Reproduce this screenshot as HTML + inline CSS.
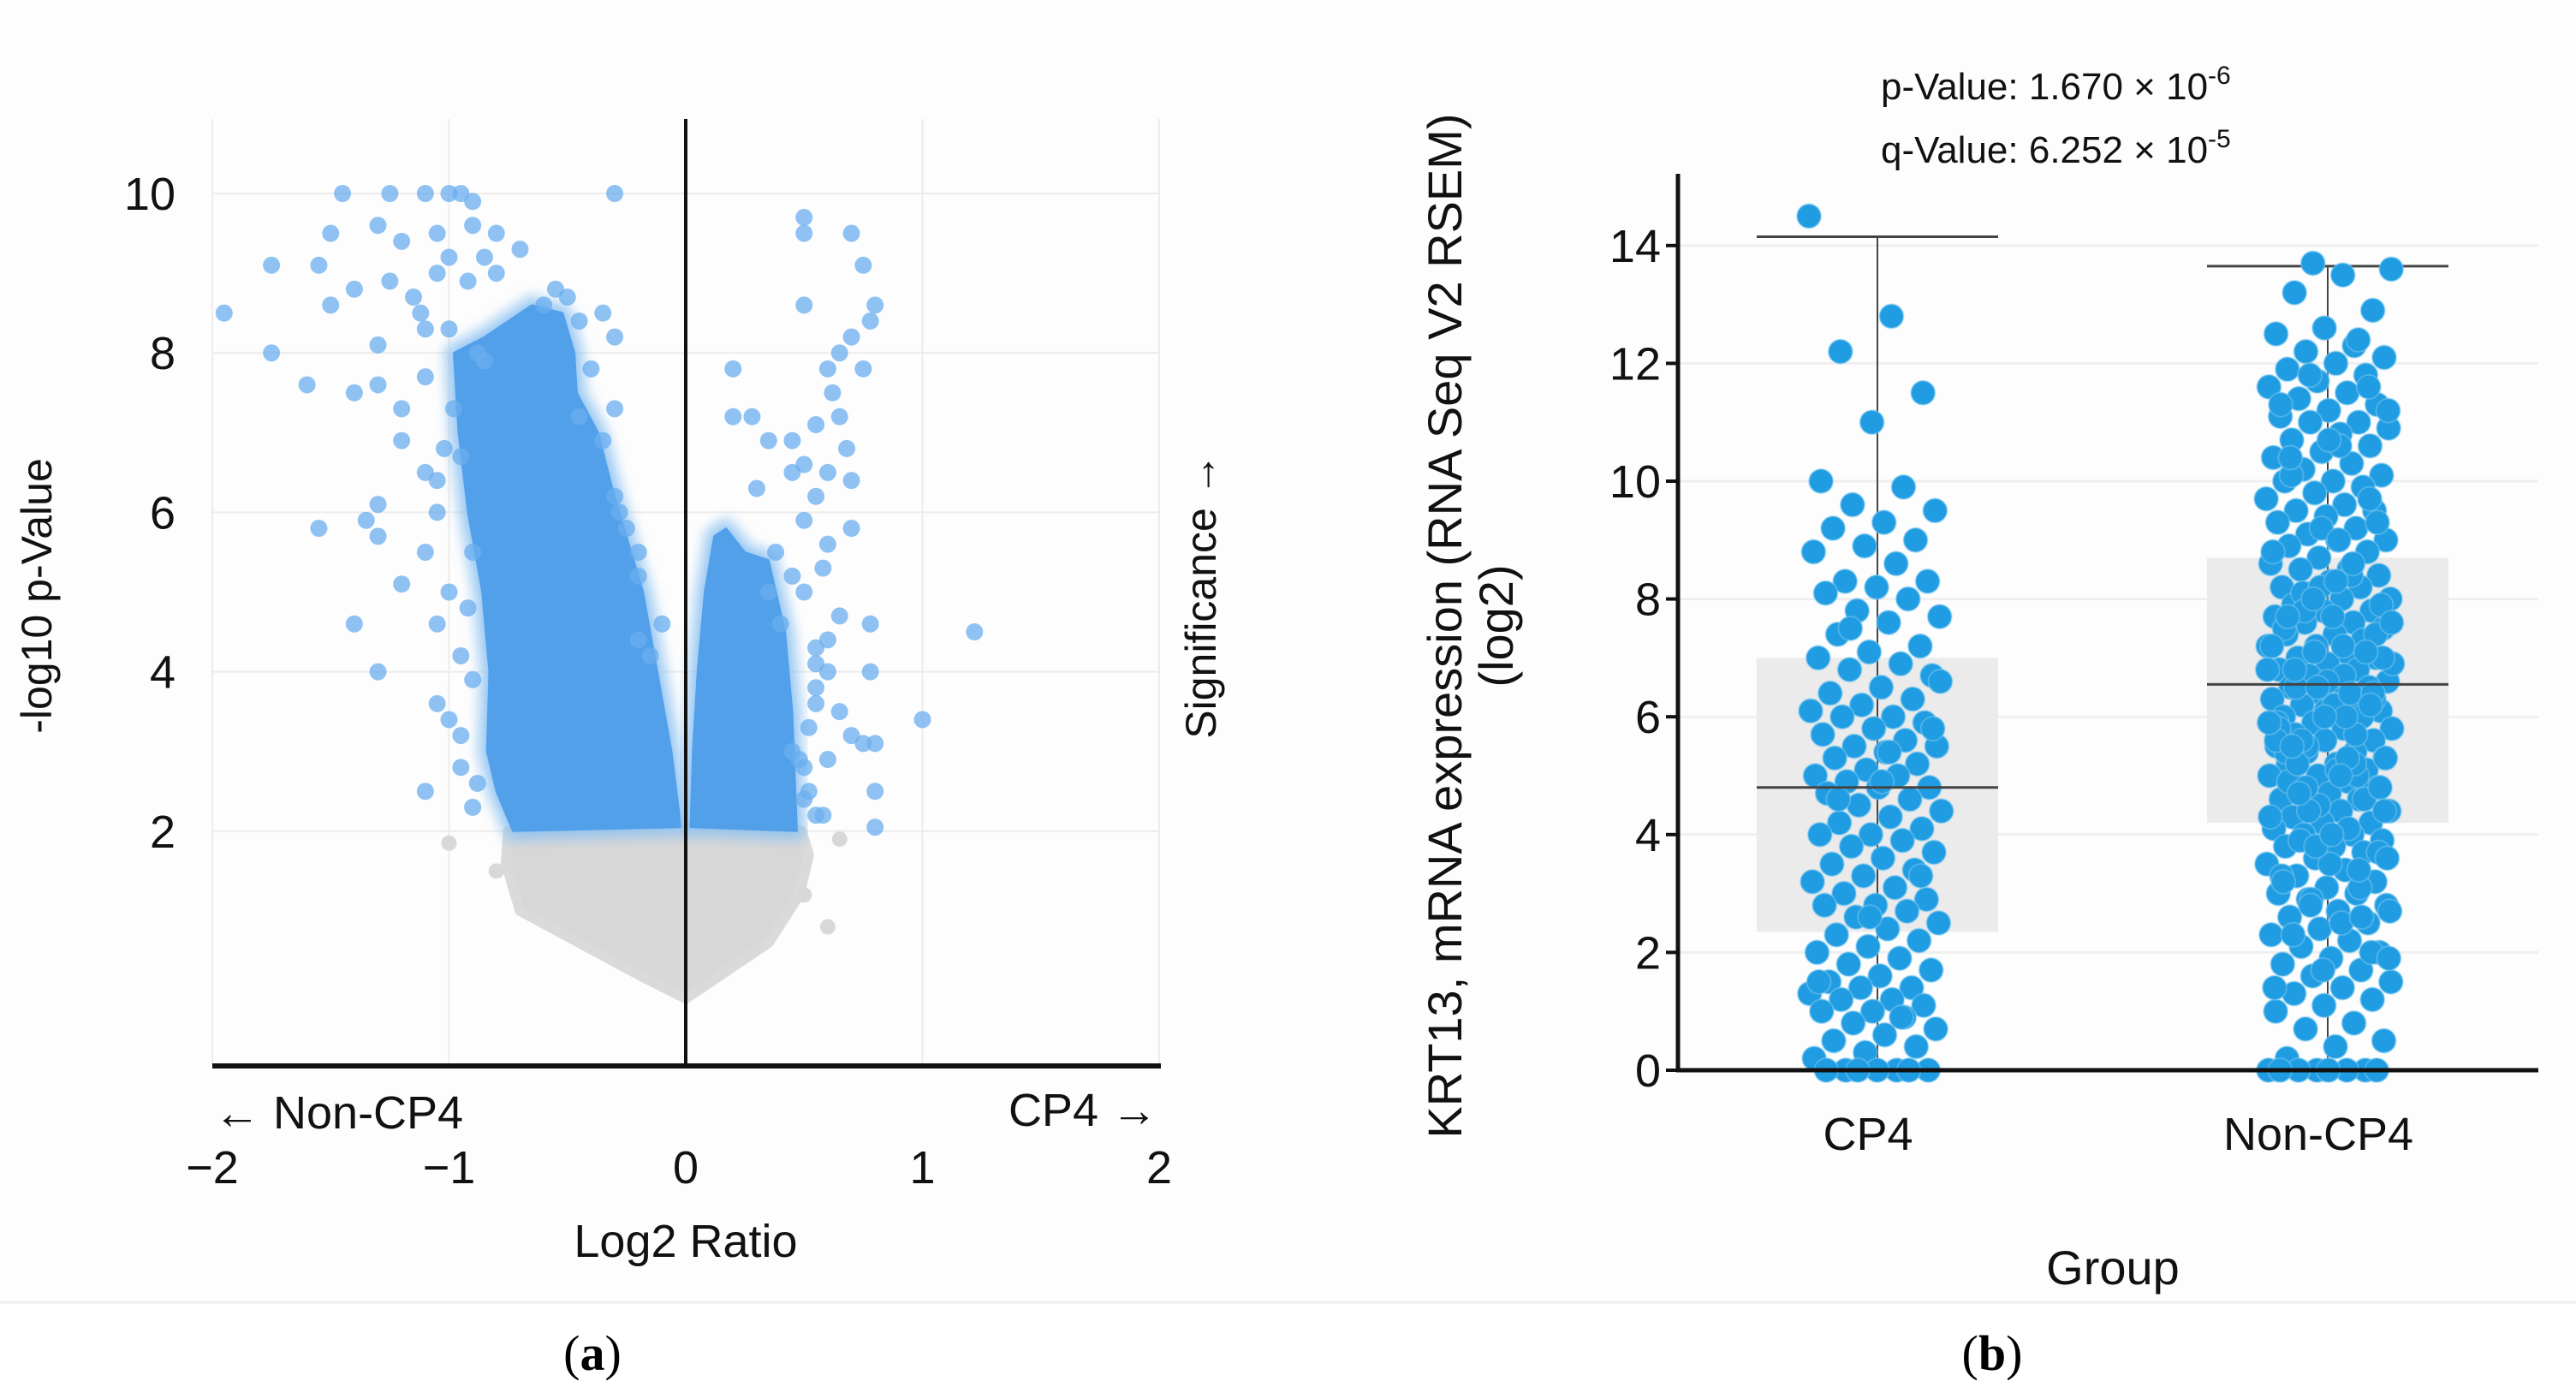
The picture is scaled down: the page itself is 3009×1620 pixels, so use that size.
<!DOCTYPE html>
<html><head><meta charset="utf-8"><style>
html,body{margin:0;padding:0;background:#fff;}
svg{display:block;font-family:"Liberation Sans",sans-serif;}
</style></head><body>
<svg id="fig" width="3009" height="1620" viewBox="0 0 3009 1620" xmlns="http://www.w3.org/2000/svg">
<defs><filter id="blur" x="-10%" y="-10%" width="120%" height="120%"><feGaussianBlur stdDeviation="6"/></filter></defs>
<rect x="0" y="0" width="3009" height="1520" fill="#fdfdfd"/>
<line x1="0" y1="1521" x2="3009" y2="1521" stroke="#eeeeee" stroke-width="3"/>
<g id="volcano"></g>
<g id="boxplot"></g>
<text x="692" y="1600" font-family="Liberation Serif,serif" font-size="58" text-anchor="middle">(<tspan font-weight="bold">a</tspan>)</text>
<text x="2327" y="1600" font-family="Liberation Serif,serif" font-size="58" text-anchor="middle">(<tspan font-weight="bold">b</tspan>)</text>
</svg>
<script>
const NS="http://www.w3.org/2000/svg";
function mk(tag,attrs,parent,txt){const e=document.createElementNS(NS,tag);for(const k in attrs)e.setAttribute(k,attrs[k]);if(txt!==undefined)e.textContent=txt;parent.appendChild(e);return e;}

// ---------- Volcano data ----------
const volXTicks=[-2,-1,0,1,2];
const volXTickLabels=["\u22122","\u22121","0","1","2"];
const volYTicks=[2,4,6,8,10];
const volYTickLabels=["2","4","6","8","10"];
const leftDenseX=[-0.73,-0.8,-0.84,-0.83,-0.86,-0.92,-0.96,-0.98,-0.85,-0.65,-0.52,-0.47,-0.46,-0.37,-0.31,-0.23,-0.18,-0.12,-0.06,-0.02];
const leftDenseY=[2,2.5,3,4,5,6,7,8,8.2,8.6,8.5,8.0,7.5,7.0,6.3,5.5,5,4,3,2.05];
const rightDenseX=[0.02,0.03,0.05,0.08,0.12,0.17,0.25,0.35,0.42,0.45,0.47];
const rightDenseY=[2.05,3,4,5,5.7,5.8,5.5,5.4,4.5,3.5,2.0];
const grayX=[-0.75,-0.02,0.02,0.49,0.52,0.48,0.35,0.15,0,-0.2,-0.45,-0.7,-0.76];
const grayY=[2,2.05,2.05,2,1.7,1.2,0.6,0.2,-0.1,0.2,0.6,1.0,1.6];
const sigX=[-1.45,-1.25,-1.1,-1.0,-0.95,-0.9,-0.3,-1.5,-1.3,-1.2,-1.05,-0.9,-0.8,-1.75,-1.55,-1.95,-1.5,-1.4,-1.25,-1.15,-1.05,-0.85,-0.7,-1.75,-1.3,-1.1,-0.3,-1.6,-1.4,-1.3,-1.2,-1.1,-0.6,-0.5,-0.35,-0.3,-0.45,-1.2,-1.1,-1.3,-1.05,-1.55,-1.35,-1.3,-0.3,-0.25,-0.2,-1.2,-1.1,-1.0,-1.4,-1.3,-1.05,-1.05,-0.95,-0.1,-1.1,-0.9,-0.95,-0.2,-0.15,-1.0,-0.92,-1.12,-0.88,-0.8,-1.02,
 0.5,0.5,0.7,0.75,0.5,0.8,0.78,0.7,0.65,0.6,0.75,0.2,0.2,0.28,0.35,0.45,0.55,0.65,0.5,0.45,0.6,0.3,0.55,0.7,0.5,0.6,0.38,0.45,0.7,0.78,1.22,0.65,0.55,0.6,0.78,0.55,0.65,1.0,0.7,0.8,0.75,0.6,0.52,0.8,0.55,0.8,0.5,0.45,0.4,0.35,0.62,0.68,0.58,
 -1.0,-0.95,-0.9,-1.05,-0.98,-0.88,-0.92,-1.0,-0.85,-0.9,-0.95,-0.55,-0.45,-0.4,-0.35,-0.28,-0.2,0.5,0.52,0.55,0.5,0.48,0.55,0.6,0.58];
const sigY=[10,10,10,10,10,9.9,10,9.5,9.6,9.4,9.5,9.6,9.5,9.1,9.1,8.5,8.6,8.8,8.9,8.7,9.0,9.2,9.3,8.0,8.1,8.3,8.2,7.6,7.5,7.6,7.3,7.7,8.6,8.7,8.5,7.3,7.2,6.9,6.5,6.1,6.0,5.8,5.9,5.7,6.2,5.8,5.5,5.1,5.5,5.0,4.6,4.0,4.6,3.6,3.2,4.6,2.5,2.3,2.8,4.4,4.2,9.2,8.9,8.5,8.0,9.0,6.8,
 9.7,9.5,9.5,9.1,8.6,8.6,8.4,8.2,8.0,7.8,7.8,7.8,7.2,7.2,6.9,6.9,7.1,7.2,6.6,6.5,6.5,6.3,6.2,6.4,5.9,5.6,5.5,5.2,5.8,4.6,4.5,4.7,4.3,4.0,4.0,3.6,3.5,3.4,3.2,3.1,3.1,2.9,2.5,2.5,2.2,2.05,2.8,3.0,4.6,5.0,7.5,6.8,5.3,
 3.4,4.2,5.5,6.4,7.3,2.6,4.8,8.3,7.9,3.9,6.7,8.8,8.4,7.8,6.9,6.0,5.2,2.4,3.3,4.1,5.0,2.9,3.8,4.4,2.2];
const grayPtX=[-1.0,0.65,0.6,-0.8,0.5];
const grayPtY=[1.85,1.9,0.8,1.5,1.2];

// ---------- Box plot data ----------
const groups=["CP4","Non-CP4"];
const boxQ1=[2.35,4.2];
const boxMedian=[4.8,6.55];
const boxQ3=[7.0,8.7];
const whiskerLow=[0,0];
const whiskerHigh=[14.15,13.65];
const boxYTicks=[0,2,4,6,8,10,12,14];
const boxYTickLabels=["0","2","4","6","8","10","12","14"];
const cp4Values=[14.5,12.8,12.2,11.5,11.0,10.0,9.9,9.6,9.5,9.3,9.2,9.0,8.9,8.8,8.6,8.3,8.3,8.2,8.1,8.0,7.8,7.7,7.6,7.4,7.2,7.1,7.0,6.9,6.8,6.7,6.5,6.4,6.3,6.2,6.1,6.0,6.0,5.9,5.8,5.7,5.6,5.5,5.5,5.4,5.3,5.2,5.1,5.0,5.0,4.9,4.8,4.8,4.7,4.6,4.5,4.4,4.3,4.2,4.1,4.0,4.0,3.9,3.8,3.7,3.6,3.5,3.4,3.3,3.2,3.1,3.0,2.9,2.8,2.8,2.7,2.6,2.5,2.4,2.3,2.2,2.1,2.0,1.9,1.8,1.7,1.6,1.5,1.4,1.4,1.3,1.2,1.2,1.1,1.0,1.0,0.9,0.8,0.7,0.6,0.5,0.4,0.3,0.2,0,0,0,0,0,0,0,6.6,5.4,4.6,3.3,2.6,1.5,0.9,7.5,5.8,4.9];
const nonValues=[13.7,13.6,13.5,13.2,12.9,12.6,12.5,12.3,12.2,12.1,12.0,11.9,11.8,11.7,11.6,11.5,11.4,11.3,11.2,11.1,11.0,11.0,10.9,10.8,10.7,10.6,10.5,10.4,10.3,10.2,10.1,10.0,10.0,9.9,9.8,9.7,9.6,9.5,9.5,9.4,9.3,9.2,9.1,9.0,9.0,8.9,8.8,8.7,8.6,8.5,8.5,8.4,8.3,8.2,8.2,8.1,8.0,8.0,7.9,7.8,7.8,7.7,7.6,7.6,7.5,7.4,7.4,7.3,7.2,7.2,7.1,7.0,7.0,6.9,6.8,6.8,6.7,6.6,6.6,6.5,6.5,6.4,6.3,6.3,6.2,6.1,6.1,6.0,6.0,5.9,5.8,5.8,5.7,5.6,5.6,5.5,5.4,5.4,5.3,5.2,5.2,5.1,5.0,5.0,4.9,4.8,4.8,4.7,4.6,4.6,4.5,4.4,4.4,4.3,4.2,4.2,4.1,4.0,4.0,3.9,3.8,3.8,3.7,3.6,3.5,3.4,3.3,3.2,3.1,3.0,3.0,2.9,2.8,2.7,2.6,2.5,2.4,2.3,2.2,2.1,2.0,1.9,1.8,1.7,1.6,1.5,1.4,1.3,1.2,1.1,1.0,0.8,0.7,0.5,0.4,0.2,0,0,0,0,0,0,0,0,
 12.4,11.8,11.2,10.6,10.1,9.7,9.2,8.8,8.4,8.1,7.9,7.7,7.5,7.3,7.1,6.9,6.7,6.5,6.3,6.1,5.9,5.7,5.5,5.3,5.1,4.9,4.7,4.5,4.3,4.1,3.9,3.7,3.5,3.3,3.1,2.9,2.7,2.5,2.3,2.0,1.7,1.4,8.6,7.8,7.0,6.2,5.4,4.6,3.8,6.8,6.0,5.2,7.4,6.6,5.8,5.0,4.4,3.6,9.0,10.4,11.6,8.2,7.2,6.4,5.6,4.8,4.0,3.2,2.6,
 8.0,7.6,7.2,6.8,6.4,6.0,5.6,5.2,4.8,4.4,8.3,7.7,7.1,6.5,5.9,5.3,4.7,9.3,10.7,11.3,3.4,2.8,1.9,5.0,5.5,6.2];

// ---------- Volcano drawing ----------
(function(){
 const g=document.getElementById('volcano');
 const sx=v=>801+v*276.5, sy=v=>1157-v*93.1;
 volYTicks.forEach(t=>{const l=mk('line',{x1:248,x2:1354,y1:sy(t),y2:sy(t),stroke:'#ececec','stroke-width':2},g);
 
 });
 volXTicks.forEach(t=>{if(t===0)return;const l=mk('line',{x1:sx(t),x2:sx(t),y1:139,y2:1244,stroke:'#ececec','stroke-width':2},g);
 
 });
 const poly=(xs,ys)=>xs.map((x,i)=>sx(x)+','+sy(ys[i])).join(' ');
 const gp=mk('polygon',{points:poly(grayX,grayY),fill:'#d7d7d7',stroke:'#dadada','stroke-width':12,'stroke-linejoin':'round'},g);
 
 
 grayPtX.forEach((x,i)=>{const c=mk('circle',{cx:sx(x),cy:sy(grayPtY[i]),r:9,fill:'#d8d8d8'},g);
 
 });
 [[leftDenseX,leftDenseY,'left-dense-region'],[rightDenseX,rightDenseY,'right-dense-region']].forEach(([xs,ys,n])=>{
  const p1=mk('polygon',{points:poly(xs,ys),fill:'#6aaef0',stroke:'#8cc2f2','stroke-width':26,'stroke-linejoin':'round','stroke-opacity':0.6,filter:'url(#blur)'},g);
  
  
  const p=mk('polygon',{points:poly(xs,ys),fill:'#529fea',stroke:'#529fea','stroke-width':2,'stroke-linejoin':'round'},g);
  
  
 });
 sigX.forEach((x,i)=>{const c=mk('circle',{cx:sx(x),cy:sy(sigY[i]),r:10,fill:'#6aaeef','fill-opacity':0.75},g);
 
 });
 const ax=mk('line',{x1:248,x2:1356,y1:1245,y2:1245,stroke:'#111','stroke-width':6},g);
 
 
 const zl=mk('line',{x1:sx(0),x2:sx(0),y1:139,y2:1245,stroke:'#111','stroke-width':4},g);
 
 
 volYTicks.forEach((t,i)=>{const tx=mk('text',{x:205,y:sy(t)+19,'font-size':54,'text-anchor':'end',fill:'#111'},g,volYTickLabels[i]);
 
 });
 volXTicks.forEach((t,i)=>{const tx=mk('text',{x:sx(t),y:1382,'font-size':54,'text-anchor':'middle',fill:'#111'},g,volXTickLabels[i]);
 
 });
 const t1=mk('text',{x:250,y:1318,'font-size':54,fill:'#111'},g,'\u2190  Non-CP4');
 
 
 const t2=mk('text',{x:1352,y:1315,'font-size':54,fill:'#111','text-anchor':'end'},g,'CP4  \u2192');
 
 
 const t3=mk('text',{x:801,y:1468,'font-size':54,fill:'#111','text-anchor':'middle'},g,'Log2 Ratio');
 
 
 const t4=mk('text',{x:0,y:0,'font-size':50,fill:'#111','text-anchor':'middle',transform:'translate(60,696) rotate(-90)'},g,'-log10 p-Value');
 
 
 const t5=mk('text',{x:0,y:0,'font-size':50,fill:'#111','text-anchor':'middle',transform:'translate(1420,696) rotate(-90)'},g,'Significance \u2192');
 
 
})();

// ---------- Box plot drawing ----------
(function(){
 const g=document.getElementById('boxplot');
 const sy=v=>1250-v*68.8;
 const cx=[2193,2719], half=141, spread=[78,74], jc=[2191,2721];
 boxYTicks.forEach(t=>{if(t===0)return;const l=mk('line',{x1:1958,x2:2965,y1:sy(t),y2:sy(t),stroke:'#efefef','stroke-width':3},g);
 
 });
 groups.forEach((grp,i)=>{
  const b=mk('rect',{x:cx[i]-half,y:sy(boxQ3[i]),width:2*half,height:sy(boxQ1[i])-sy(boxQ3[i]),fill:'#ebebeb'},g);
  
  
  const w=mk('line',{x1:cx[i],x2:cx[i],y1:sy(whiskerHigh[i]),y2:sy(whiskerLow[i]),stroke:'#444','stroke-width':2},g);
  
  
  const cap=mk('line',{x1:cx[i]-half,x2:cx[i]+half,y1:sy(whiskerHigh[i]),y2:sy(whiskerHigh[i]),stroke:'#444','stroke-width':3},g);
  
  
 });
 [cp4Values,nonValues].forEach((vals,i)=>{
  vals.forEach((v,k)=>{
   const f=((k*0.6180339887)+i*0.37)%1;
   const c=mk('circle',{cx:jc[i]+(f*2-1)*spread[i],cy:sy(v),r:14,fill:'#1f9ce2',stroke:'#7cc8f0','stroke-width':2,'stroke-opacity':0.5},g);
   
   
  });
 });
 groups.forEach((grp,i)=>{
  const m=mk('line',{x1:cx[i]-half,x2:cx[i]+half,y1:sy(boxMedian[i]),y2:sy(boxMedian[i]),stroke:'#444','stroke-width':3},g);
  
  
  const t=mk('text',{x:[2182,2708][i],y:1343,'font-size':54,'text-anchor':'middle',fill:'#111'},g,grp);
  
  
 });
 const ya=mk('line',{x1:1960,x2:1960,y1:203,y2:1252,stroke:'#111','stroke-width':5},g);
 
 
 const xa=mk('line',{x1:1958,x2:2965,y1:1250,y2:1250,stroke:'#111','stroke-width':5},g);
 
 
 boxYTicks.forEach((t,i)=>{
  const tk=mk('line',{x1:1946,x2:1960,y1:sy(t),y2:sy(t),stroke:'#111','stroke-width':4},g);
  
  
  const tx=mk('text',{x:1940,y:sy(t)+19,'font-size':54,'text-anchor':'end',fill:'#111'},g,boxYTickLabels[i]);
  
  
 });
 const gt=mk('text',{x:2468,y:1500,'font-size':56,'text-anchor':'middle',fill:'#111'},g,'Group');
 
 
 const y1=mk('text',{x:0,y:0,'font-size':56,'text-anchor':'middle',fill:'#111',transform:'translate(1707,731) rotate(-90)'},g,'KRT13, mRNA expression (RNA Seq V2 RSEM)');
 
 
 const y2=mk('text',{x:0,y:0,'font-size':56,'text-anchor':'middle',fill:'#111',transform:'translate(1767,731) rotate(-90)'},g,'(log2)');
 
 
 const p=mk('text',{x:2197,y:116,'font-size':44,fill:'#111'},g);
 
 
 p.innerHTML='p-Value: 1.670 \u00d7 10<tspan font-size="30" dy="-18">-6</tspan>';
 const q=mk('text',{x:2197,y:190,'font-size':44,fill:'#111'},g);
 
 
 q.innerHTML='q-Value: 6.252 \u00d7 10<tspan font-size="30" dy="-18">-5</tspan>';
})();
</script>
</body></html>
